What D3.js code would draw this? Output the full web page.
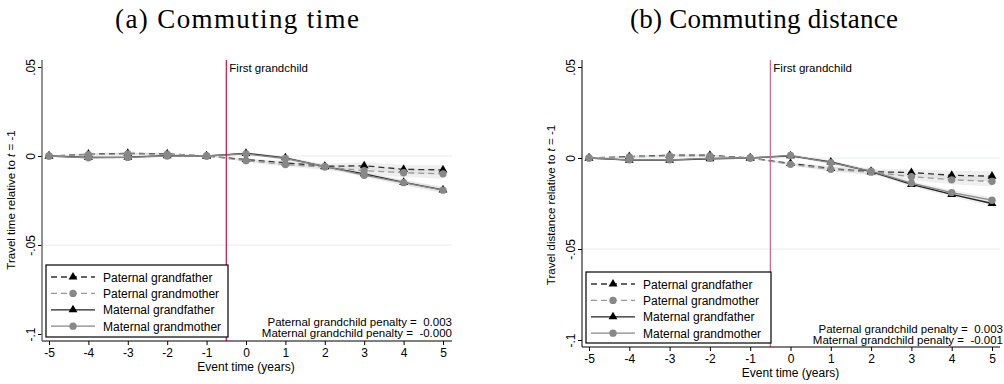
<!DOCTYPE html>
<html>
<head>
<meta charset="utf-8">
<script src="https://cdn.jsdelivr.net/npm/d3@7"></script>
<style>
  body { margin: 0; background: #fff; }
  svg { display: block; font-family: "Liberation Sans", Arial, sans-serif; }
  .title { font-family: "Liberation Serif", "DejaVu Serif", serif; font-size: 27px; }
  .tick text { font-size: 12px; fill: #000; }
</style>
</head>
<body>
<div id="chart"></div>
<script>
/**** data ****/
var eventTimes = [-5, -4, -3, -2, -1, 0, 1, 2, 3, 4, 5];
var seriesNames = ["Paternal grandfather", "Paternal grandmother", "Maternal grandfather", "Maternal grandmother"];
var yTicks = [0.05, 0, -0.05, -0.1];
var yTickLabels = [".05", "0", "-.05", "-.1"];

// (a) commuting time
var timePatGF = [0, 0.0010, 0.0015, 0.0012, 0, -0.0020, -0.0038, -0.0058, -0.0055, -0.0075, -0.0078];
var timePatGM = [0, 0.0008, 0.0012, 0.0010, 0, -0.0026, -0.0048, -0.0062, -0.0082, -0.0094, -0.0100];
var timeMatGF = [0, -0.0008, -0.0006, 0.0002, 0, 0.0015, -0.0010, -0.0060, -0.0100, -0.0148, -0.0190];
var timeMatGM = [0, -0.0010, -0.0008, 0.0000, 0, 0.0012, -0.0014, -0.0058, -0.0108, -0.0150, -0.0192];
var timePenalty = ["0.003", "-0.000"];

// (b) commuting distance
var distPatGF = [0, 0.0008, 0.0015, 0.0015, 0, -0.0030, -0.0058, -0.0075, -0.0080, -0.0095, -0.0100];
var distPatGM = [0, 0.0006, 0.0012, 0.0012, 0, -0.0035, -0.0062, -0.0078, -0.0102, -0.0120, -0.0128];
var distMatGF = [0, -0.0012, -0.0012, -0.0004, 0, 0.0012, -0.0022, -0.0075, -0.0145, -0.0200, -0.0250];
var distMatGM = [0, -0.0010, -0.0010, -0.0002, 0, 0.0014, -0.0025, -0.0072, -0.0138, -0.0190, -0.0232];
var distPenalty = ["0.003", "-0.001"];

// confidence half-widths (paternal, maternal)
var ciPaternal = [0, 0.0006, 0.0006, 0.0006, 0, 0.0008, 0.0012, 0.0015, 0.0020, 0.0024, 0.0028];
var ciMaternal = [0, 0.0005, 0.0005, 0.0005, 0, 0.0007, 0.0009, 0.0010, 0.0012, 0.0014, 0.0016];

/**** styles per series ****/
var seriesStyle = [
  { stroke: "#333", dash: "6,4", marker: "triangle", fill: "#000" },
  { stroke: "#999", dash: "6,4", marker: "circle", fill: "#888" },
  { stroke: "#222", dash: null, marker: "triangle", fill: "#000" },
  { stroke: "#888", dash: null, marker: "circle", fill: "#888" }
];
var drawOrder = [0, 2, 1, 3];

var width = 1004, height = 384;
var svg = d3.select("#chart").append("svg")
    .attr("width", width)
    .attr("height", height);

var panels = [
  { title: "(a) Commuting time", titleX: 237, titleW: 244, yTitle: "Travel time relative to ", yTitleX: 15, yTitleY: 200,
    left: 42, right: 452, top: 60, bottom: 341, x0: 49, x1: 443, yTop: 67, yBot: 334,
    series: [timePatGF, timePatGM, timeMatGF, timeMatGM], penalty: timePenalty,
    redLine: "#cc1040", yAxisColor: "#777",
    legend: { x: 46, y: 265, w: 182, h: 72 }, penaltyX: 452, penaltyY: 326 },
  { title: "(b) Commuting distance", titleX: 764, titleW: 268, yTitle: "Travel distance relative to ", yTitleX: 555, yTitleY: 205,
    left: 582, right: 1000, top: 60, bottom: 347, x0: 589, x1: 992, yTop: 67, yBot: 340,
    series: [distPatGF, distPatGM, distMatGF, distMatGM], penalty: distPenalty,
    redLine: "#d06488", yAxisColor: "#000",
    legend: { x: 586, y: 272, w: 185, h: 71 }, penaltyX: 1003, penaltyY: 333 }
];

panels.forEach(drawPanel);

function drawPanel(p) {
  var g = svg.append("g");
  var x = d3.scaleLinear().domain([-5, 5]).range([p.x0, p.x1]);
  var y = d3.scaleLinear().domain([-0.1, 0.05]).range([p.yBot, p.yTop]);

  // title
  g.append("text").attr("class", "title")
      .attr("x", p.titleX - p.titleW / 2).attr("y", 28)
      .attr("textLength", p.titleW).attr("lengthAdjust", "spacing")
      .text(p.title);

  // horizontal grid lines
  g.selectAll(".grid").data([0, -0.05]).enter().append("line")
      .attr("x1", p.left).attr("x2", p.right)
      .attr("y1", function(d) { return y(d); })
      .attr("y2", function(d) { return y(d); })
      .attr("stroke", "#e4ecee").attr("stroke-width", 1);

  // confidence bands
  var area = d3.area()
      .x(function(d) { return x(d.t); })
      .y0(function(d) { return y(d.v - d.ci); })
      .y1(function(d) { return y(d.v + d.ci); });
  p.series.forEach(function(vals, i) {
    var ci = i < 2 ? ciPaternal : ciMaternal;
    var pts = eventTimes.map(function(t, k) { return { t: t, v: vals[k], ci: ci[k] }; });
    g.append("path").datum(pts)
        .attr("d", area)
        .attr("fill", "#d0d0d0").attr("fill-opacity", 0.35);
  });

  // lines and markers
  var line = d3.line()
      .x(function(d, k) { return x(eventTimes[k]); })
      .y(function(d) { return y(d); });
  drawOrder.forEach(function(i) {
    var s = seriesStyle[i];
    g.append("path").datum(p.series[i])
        .attr("d", line)
        .attr("fill", "none")
        .attr("stroke", s.stroke).attr("stroke-width", 1.3)
        .attr("stroke-dasharray", s.dash);
    g.selectAll(null).data(p.series[i]).enter().append("path")
        .attr("transform", function(d, k) { return "translate(" + x(eventTimes[k]) + "," + y(d) + ")"; })
        .attr("d", d3.symbol().type(s.marker === "triangle" ? d3.symbolTriangle : d3.symbolCircle).size(s.marker === "triangle" ? 34 : 42))
        .attr("fill", s.fill);
  });

  // red event line
  var xEvent = x(-0.5);
  g.append("line")
      .attr("x1", xEvent).attr("x2", xEvent)
      .attr("y1", p.top).attr("y2", p.bottom)
      .attr("stroke", p.redLine).attr("stroke-width", 1.2);
  g.append("text")
      .attr("x", xEvent + 3).attr("y", p.top + 12)
      .attr("font-size", 11.5)
      .text("First grandchild");

  // axes
  var xAxis = g.append("g")
      .attr("transform", "translate(0," + p.bottom + ")")
      .call(d3.axisBottom(x).tickValues(eventTimes).tickSize(4).tickFormat(d3.format("d")));
  xAxis.select(".domain").remove();
  xAxis.selectAll(".tick text").text(function(d) { return String(d).replace("\u2212", "-"); });
  g.append("line")
      .attr("x1", p.left).attr("x2", p.right)
      .attr("y1", p.bottom).attr("y2", p.bottom)
      .attr("stroke", "#000");

  var yAxis = g.append("g")
      .attr("transform", "translate(" + p.left + ",0)")
      .call(d3.axisLeft(y).tickValues(yTicks).tickSize(4)
        .tickFormat(function(d, k) { return yTickLabels[k]; }));
  yAxis.select(".domain").remove();
  yAxis.selectAll(".tick text")
      .attr("transform", "rotate(-90)")
      .attr("x", 0).attr("y", -7).attr("dy", 0)
      .attr("text-anchor", "middle");
  g.append("line")
      .attr("x1", p.left).attr("x2", p.left)
      .attr("y1", p.top).attr("y2", p.bottom)
      .attr("stroke", p.yAxisColor).attr("stroke-width", p.yAxisColor === "#000" ? 1 : 1.6);

  // axis titles
  var yt = g.append("text")
      .attr("transform", "translate(" + p.yTitleX + "," + p.yTitleY + ") rotate(-90)")
      .attr("text-anchor", "middle")
      .attr("font-size", 11.5);
  yt.append("tspan").text(p.yTitle);
  yt.append("tspan").attr("font-style", "italic").text("t");
  yt.append("tspan").text(" = -1");

  g.append("text")
      .attr("x", x(0)).attr("y", p.bottom + 30)
      .attr("text-anchor", "middle")
      .attr("font-size", 12)
      .text("Event time (years)");

  // legend
  var lg = g.append("g").attr("transform", "translate(" + p.legend.x + "," + p.legend.y + ")");
  lg.append("rect")
      .attr("width", p.legend.w).attr("height", p.legend.h)
      .attr("fill", "#fff").attr("stroke", "#000").attr("stroke-width", 1.2);
  seriesNames.forEach(function(name, i) {
    var s = seriesStyle[i];
    var ry = 12 + i * 16.4;
    lg.append("line")
        .attr("x1", 5).attr("x2", 49).attr("y1", ry).attr("y2", ry)
        .attr("stroke", s.stroke).attr("stroke-width", 1.3)
        .attr("stroke-dasharray", s.dash);
    lg.append("path")
        .attr("transform", "translate(27," + ry + ")")
        .attr("d", d3.symbol().type(s.marker === "triangle" ? d3.symbolTriangle : d3.symbolCircle).size(s.marker === "triangle" ? 34 : 42))
        .attr("fill", s.fill);
    lg.append("text")
        .attr("x", 57).attr("y", ry + 4.5)
        .attr("font-size", 12)
        .text(name);
  });

  // penalty note (two lines, right aligned)
  var notes = ["Paternal grandchild penalty =\u00a0\u00a0" + p.penalty[0],
               "Maternal grandchild penalty =\u00a0\u00a0" + p.penalty[1]];
  g.selectAll(null).data(notes).enter().append("text")
      .attr("x", p.penaltyX)
      .attr("y", function(d, k) { return p.penaltyY + k * 10.5; })
      .attr("text-anchor", "end")
      .attr("font-size", 11.5)
      .text(function(d) { return d; });
}
</script>
</body>
</html>
